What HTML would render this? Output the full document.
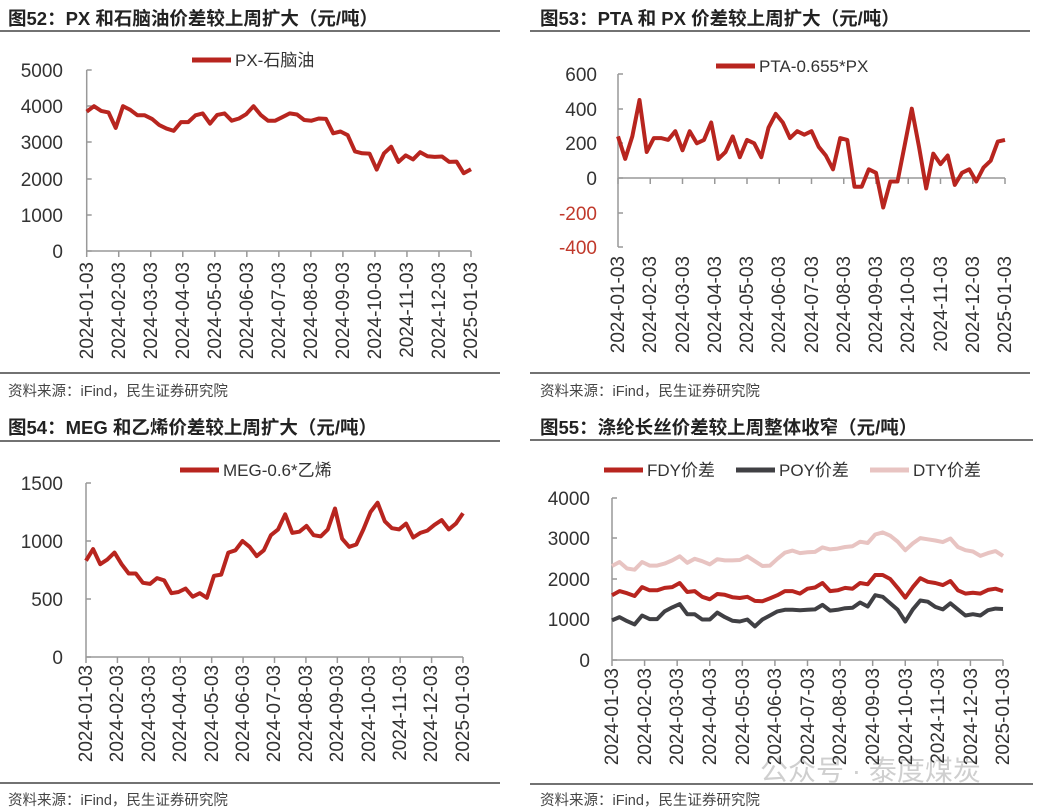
<!DOCTYPE html>
<html><head><meta charset="utf-8"><style>
body{margin:0;background:#fff;}
svg{display:block;font-family:"Liberation Sans","Noto Sans CJK SC",sans-serif;}
.t{font-weight:bold;font-size:18.5px;fill:#222;}
.s{font-size:14.5px;fill:#444;}
.y{font-size:19px;fill:#333;text-anchor:end;}
.x{font-size:19px;fill:#333;text-anchor:end;}
.l{font-size:17px;fill:#333;}
</style></head><body>
<svg id="c" width="1037" height="810" viewBox="0 0 1037 810">
<text class="t" x="8" y="25">图52：PX 和石脑油价差较上周扩大（元/吨）</text>
<line x1="0" y1="31" x2="500" y2="31" stroke="#444" stroke-width="1.5"/>
<line x1="0" y1="373" x2="500" y2="373" stroke="#444" stroke-width="1.5"/>
<text class="s" x="8" y="396">资料来源：iFind，民生证券研究院</text>

<text class="t" x="540" y="25">图53：PTA 和 PX 价差较上周扩大（元/吨）</text>
<line x1="530" y1="31" x2="1030" y2="31" stroke="#444" stroke-width="1.5"/>
<line x1="530" y1="373" x2="1030" y2="373" stroke="#444" stroke-width="1.5"/>
<text class="s" x="540" y="396">资料来源：iFind，民生证券研究院</text>

<text class="t" x="8" y="434">图54：MEG 和乙烯价差较上周扩大（元/吨）</text>
<line x1="0" y1="441" x2="500" y2="441" stroke="#444" stroke-width="1.5"/>
<line x1="0" y1="783" x2="500" y2="783" stroke="#444" stroke-width="1.5"/>
<text class="s" x="8" y="805">资料来源：iFind，民生证券研究院</text>

<text class="t" x="540" y="434">图55：涤纶长丝价差较上周整体收窄（元/吨）</text>
<line x1="530" y1="440" x2="1033" y2="440" stroke="#444" stroke-width="1.5"/>
<line x1="530" y1="784" x2="1033" y2="784" stroke="#444" stroke-width="1.5"/>
<text class="s" x="540" y="805">资料来源：iFind，民生证券研究院</text>
<text x="760" y="780" font-size="28" fill="#bbb" opacity="0.7">公众号 · 泰度煤炭</text>

<line x1="192" y1="60" x2="231" y2="60" stroke="#b8251f" stroke-width="5"/>
<text class="l" x="235" y="66">PX-石脑油</text>
<line x1="716" y1="66" x2="755" y2="66" stroke="#b8251f" stroke-width="5"/>
<text class="l" x="759" y="72">PTA-0.655*PX</text>
<line x1="180" y1="470" x2="219" y2="470" stroke="#b8251f" stroke-width="5"/>
<text class="l" x="223" y="476">MEG-0.6*乙烯</text>
<line x1="604" y1="470" x2="643" y2="470" stroke="#b8251f" stroke-width="5"/>
<text class="l" x="647" y="476">FDY价差</text>
<line x1="736" y1="470" x2="775" y2="470" stroke="#404044" stroke-width="5"/>
<text class="l" x="779" y="476">POY价差</text>
<line x1="870" y1="470" x2="909" y2="470" stroke="#e8c4c2" stroke-width="5"/>
<text class="l" x="913" y="476">DTY价差</text>

<text class="y" x="63" y="77">5000</text><text class="y" x="63" y="113">4000</text><text class="y" x="63" y="149">3000</text><text class="y" x="63" y="186">2000</text><text class="y" x="63" y="222">1000</text><text class="y" x="63" y="258">0</text>
<text class="y" x="597" y="81">600</text><text class="y" x="597" y="116">400</text><text class="y" x="597" y="150">200</text><text class="y" x="597" y="185">0</text><text class="y" x="597" y="220" style="fill:#c0392b">-200</text><text class="y" x="597" y="254" style="fill:#c0392b">-400</text>
<text class="y" x="63" y="490">1500</text><text class="y" x="63" y="548">1000</text><text class="y" x="63" y="606">500</text><text class="y" x="63" y="664">0</text>
<text class="y" x="590" y="505">4000</text><text class="y" x="590" y="545">3000</text><text class="y" x="590" y="586">2000</text><text class="y" x="590" y="626">1000</text><text class="y" x="590" y="667">0</text>

<g><text class="x" transform="translate(93,262) rotate(-90)">2024-01-03</text><text class="x" transform="translate(125,262) rotate(-90)">2024-02-03</text><text class="x" transform="translate(157,262) rotate(-90)">2024-03-03</text><text class="x" transform="translate(189,262) rotate(-90)">2024-04-03</text><text class="x" transform="translate(221,262) rotate(-90)">2024-05-03</text><text class="x" transform="translate(253,262) rotate(-90)">2024-06-03</text><text class="x" transform="translate(285,262) rotate(-90)">2024-07-03</text><text class="x" transform="translate(317,262) rotate(-90)">2024-08-03</text><text class="x" transform="translate(349,262) rotate(-90)">2024-09-03</text><text class="x" transform="translate(381,262) rotate(-90)">2024-10-03</text><text class="x" transform="translate(413,262) rotate(-90)">2024-11-03</text><text class="x" transform="translate(445,262) rotate(-90)">2024-12-03</text><text class="x" transform="translate(477,262) rotate(-90)">2025-01-03</text></g>
<g><text class="x" transform="translate(624,256) rotate(-90)">2024-01-03</text><text class="x" transform="translate(656,256) rotate(-90)">2024-02-03</text><text class="x" transform="translate(689,256) rotate(-90)">2024-03-03</text><text class="x" transform="translate(721,256) rotate(-90)">2024-04-03</text><text class="x" transform="translate(753,256) rotate(-90)">2024-05-03</text><text class="x" transform="translate(785,256) rotate(-90)">2024-06-03</text><text class="x" transform="translate(818,256) rotate(-90)">2024-07-03</text><text class="x" transform="translate(850,256) rotate(-90)">2024-08-03</text><text class="x" transform="translate(882,256) rotate(-90)">2024-09-03</text><text class="x" transform="translate(914,256) rotate(-90)">2024-10-03</text><text class="x" transform="translate(947,256) rotate(-90)">2024-11-03</text><text class="x" transform="translate(979,256) rotate(-90)">2024-12-03</text><text class="x" transform="translate(1011,256) rotate(-90)">2025-01-03</text></g>
<g><text class="x" transform="translate(92,665) rotate(-90)">2024-01-03</text><text class="x" transform="translate(123,665) rotate(-90)">2024-02-03</text><text class="x" transform="translate(155,665) rotate(-90)">2024-03-03</text><text class="x" transform="translate(186,665) rotate(-90)">2024-04-03</text><text class="x" transform="translate(218,665) rotate(-90)">2024-05-03</text><text class="x" transform="translate(249,665) rotate(-90)">2024-06-03</text><text class="x" transform="translate(280,665) rotate(-90)">2024-07-03</text><text class="x" transform="translate(312,665) rotate(-90)">2024-08-03</text><text class="x" transform="translate(343,665) rotate(-90)">2024-09-03</text><text class="x" transform="translate(375,665) rotate(-90)">2024-10-03</text><text class="x" transform="translate(406,665) rotate(-90)">2024-11-03</text><text class="x" transform="translate(437,665) rotate(-90)">2024-12-03</text><text class="x" transform="translate(469,665) rotate(-90)">2025-01-03</text></g>
<g><text class="x" transform="translate(618,668) rotate(-90)">2024-01-03</text><text class="x" transform="translate(651,668) rotate(-90)">2024-02-03</text><text class="x" transform="translate(683,668) rotate(-90)">2024-03-03</text><text class="x" transform="translate(716,668) rotate(-90)">2024-04-03</text><text class="x" transform="translate(749,668) rotate(-90)">2024-05-03</text><text class="x" transform="translate(781,668) rotate(-90)">2024-06-03</text><text class="x" transform="translate(814,668) rotate(-90)">2024-07-03</text><text class="x" transform="translate(846,668) rotate(-90)">2024-08-03</text><text class="x" transform="translate(879,668) rotate(-90)">2024-09-03</text><text class="x" transform="translate(912,668) rotate(-90)">2024-10-03</text><text class="x" transform="translate(944,668) rotate(-90)">2024-11-03</text><text class="x" transform="translate(977,668) rotate(-90)">2024-12-03</text><text class="x" transform="translate(1009,668) rotate(-90)">2025-01-03</text></g>
<g id="g"></g>
</svg>
<script>
var g=document.getElementById('g'),NS='http://www.w3.org/2000/svg';
function el(t,a){var e=document.createElementNS(NS,t);for(var k in a)e.setAttribute(k,a[k]);g.appendChild(e);return e;}
function axes(x0,x1,yb,ytop,yt,ticksY,xAxisY){
 el('line',{x1:x0,y1:yt,x2:x0,y2:yb,stroke:'#999','stroke-width':1.5});
 ticksY.forEach(function(y){el('line',{x1:x0,y1:y,x2:x0+5,y2:y,stroke:'#999','stroke-width':1.5});});
 el('line',{x1:x0,y1:xAxisY,x2:x1,y2:xAxisY,stroke:'#999','stroke-width':1.5});
 for(var i=0;i<=12;i++){var x=x0+(x1-x0)*i/12;el('line',{x1:x,y1:xAxisY,x2:x,y2:xAxisY+6,stroke:'#999','stroke-width':1.5});}
}
function line(d,x0,x1,y0,sc,col){var p=d.map(function(v,i){return (x0+(x1-x0)*i/(d.length-1)).toFixed(1)+','+(y0-v*sc).toFixed(1);}).join(' ');
 el('polyline',{points:p,fill:'none',stroke:col,'stroke-width':4,'stroke-linejoin':'round'});}
var R='#b8251f';
axes(86.7,471,251,70,70,[70,106,142,179,215,251],251);
line([3850,4000,3870,3830,3400,4000,3900,3750,3750,3650,3480,3380,3320,3560,3560,3750,3800,3520,3760,3800,3600,3660,3780,4000,3760,3600,3600,3700,3800,3770,3620,3600,3660,3650,3250,3300,3200,2750,2700,2690,2250,2700,2880,2460,2640,2530,2730,2620,2600,2610,2460,2470,2150,2260],86.7,471,251,0.0362,R);
axes(618,1005,247,74,74,[74,109,143,178,213,247],178);
line([240,110,240,450,150,230,230,220,270,160,270,200,220,320,110,150,240,120,220,200,120,290,370,320,230,270,250,270,180,130,50,230,220,-50,-50,50,30,-170,-20,-20,190,400,180,-60,140,80,130,-40,30,50,-20,60,100,210,220],618,1005,178,0.1733,R);
axes(86,463,657,483,483,[483,541,599,657],657);
line([830,930,800,840,900,800,720,720,640,630,680,660,550,560,590,520,550,510,700,710,900,920,1000,950,870,920,1050,1100,1230,1070,1080,1130,1050,1040,1100,1280,1020,950,970,1100,1250,1330,1170,1110,1100,1150,1030,1070,1090,1140,1180,1100,1150,1240],86,463,657,0.116,R);
axes(612,1003,660,498,498,[498,538,579,619,660],660);
var s4=0.0405;
line([2320,2420,2260,2230,2420,2330,2330,2380,2460,2560,2400,2500,2440,2360,2490,2460,2460,2470,2560,2440,2320,2330,2500,2650,2700,2640,2660,2670,2780,2730,2750,2790,2810,2920,2890,3100,3150,3070,2920,2710,2880,3010,2980,2950,2910,3000,2790,2710,2680,2570,2640,2690,2570],612,1003,660,s4,'#e8c4c2');
line([1600,1700,1650,1580,1800,1720,1720,1780,1800,1900,1680,1700,1560,1500,1630,1610,1550,1530,1560,1460,1450,1520,1600,1700,1700,1640,1760,1790,1900,1700,1720,1780,1760,1900,1870,2100,2100,2000,1780,1540,1800,2020,1930,1900,1850,1950,1720,1640,1660,1640,1730,1760,1700],612,1003,660,s4,R);
line([980,1060,960,880,1100,1010,1010,1200,1300,1380,1130,1130,1000,1000,1170,1060,970,950,1000,830,1000,1100,1200,1240,1240,1230,1240,1250,1360,1220,1240,1280,1290,1420,1320,1600,1560,1400,1240,950,1250,1470,1440,1310,1250,1400,1250,1100,1130,1100,1230,1270,1260],612,1003,660,s4,'#404044');
</script>
</body></html>
